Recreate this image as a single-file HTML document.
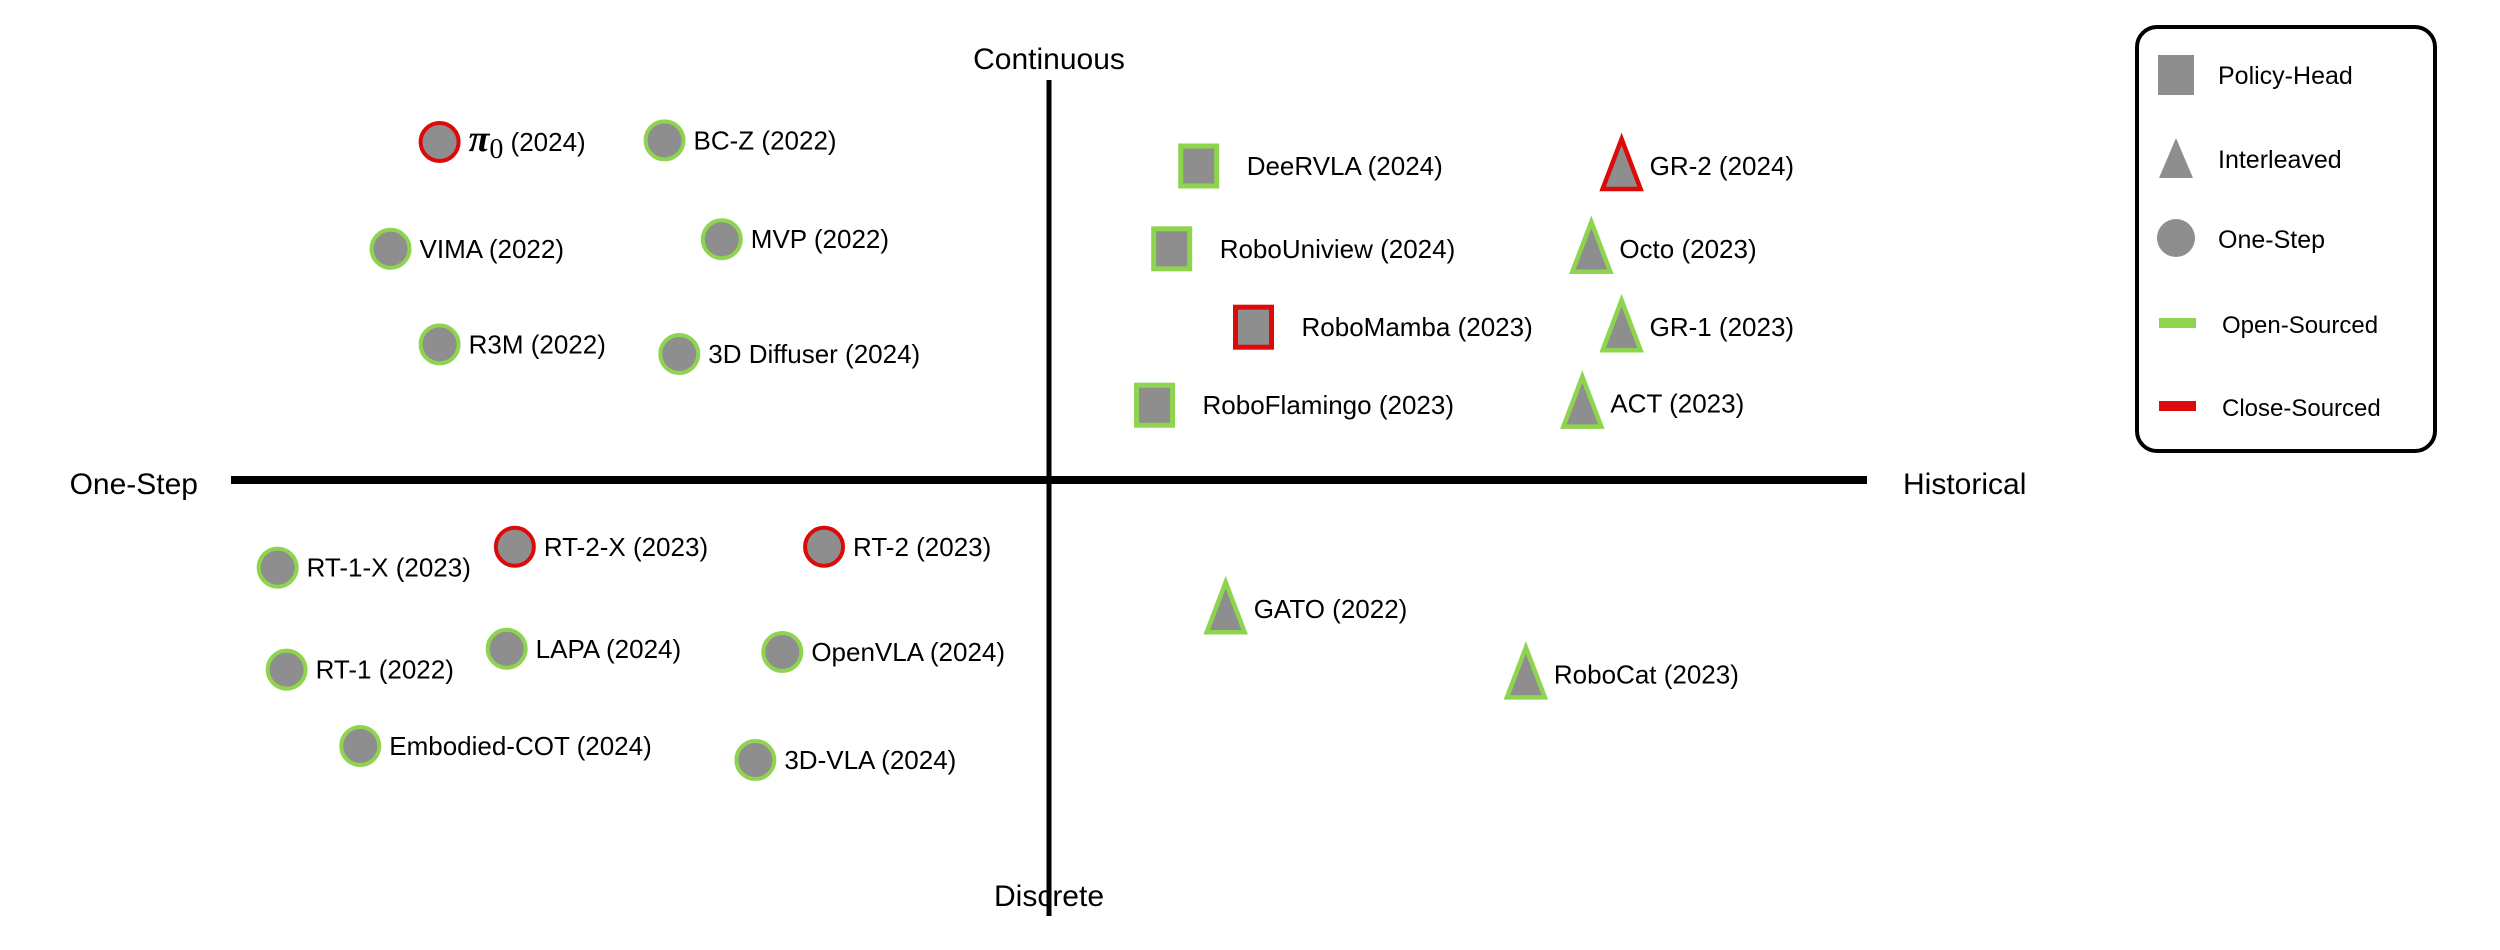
<!DOCTYPE html>
<html><head><meta charset="utf-8"><style>
html,body{margin:0;padding:0;background:#fff;}
svg{display:block;font-family:"Liberation Sans",Arial,sans-serif;}
</style></head><body>
<svg id="chart" width="2500" height="950" viewBox="0 0 2500 950">
<g id="axes"></g>
<g id="marks"></g>
<g id="legend">
 <rect x="2137" y="27" width="298" height="424" rx="20" fill="#fff" stroke="#000" stroke-width="4"/>
 <g>
  <rect x="2158" y="55" width="36" height="40" fill="#8e8e8e"/>
  <text x="2218" y="84" font-size="25">Policy-Head</text>
 </g>
 <g>
  <polygon points="2176,138 2159,178 2193,178" fill="#8e8e8e"/>
  <text x="2218" y="168" font-size="25">Interleaved</text>
 </g>
 <g>
  <circle cx="2176" cy="238" r="19" fill="#8e8e8e"/>
  <text x="2218" y="248" font-size="25">One-Step</text>
 </g>
 <g>
  <rect x="2159" y="318" width="37" height="10" fill="#8ed44f"/>
  <text x="2222" y="333" font-size="24">Open-Sourced</text>
 </g>
 <g>
  <rect x="2159" y="401" width="37" height="10" fill="#dd0a0a"/>
  <text x="2222" y="416" font-size="24">Close-Sourced</text>
 </g>
</g>
</svg>
<script>
const names = ["π0","BC-Z","VIMA","MVP","R3M","3D Diffuser","DeeRVLA","RoboUniview","RoboMamba","RoboFlamingo","GR-2","Octo","GR-1","ACT","RT-1-X","RT-2-X","RT-2","GATO","RT-1","LAPA","OpenVLA","RoboCat","Embodied-COT","3D-VLA"];
const years = [2024,2022,2022,2022,2022,2024,2024,2024,2023,2023,2024,2023,2023,2023,2023,2023,2023,2022,2022,2024,2024,2023,2024,2024];
const xValues = [-7.45,-4.70,-8.05,-4.00,-7.45,-4.52,1.83,1.50,2.50,1.29,7.00,6.63,7.00,6.52,-9.43,-6.53,-2.75,2.16,-9.32,-6.63,-3.26,5.83,-8.42,-3.59];
const yValues = [8.45,8.49,5.78,6.02,3.39,3.15,7.85,5.78,3.82,1.87,7.85,5.78,3.82,1.91,-2.19,-1.67,-1.67,-3.23,-4.74,-4.22,-4.30,-4.86,-6.65,-7.00];
const kinds = ["circle","circle","circle","circle","circle","circle","square","square","square","square","triangle","triangle","triangle","triangle","circle","circle","circle","triangle","circle","circle","circle","triangle","circle","circle"];
const openSource = [false,true,true,true,true,true,true,true,false,true,false,true,true,true,true,false,false,true,true,true,true,true,true,true];
const xDomain = [-10,10];
const yDomain = [-10.9,10];
const axisLabels = ["Continuous","Discrete","One-Step","Historical"];

const NS="http://www.w3.org/2000/svg";
const cx=1049, cy=480;
function xScale(v){return cx+v*81.8;}
function yScale(v){return cy-v*40;}
function mk(tag,attrs,parent){const e=document.createElementNS(NS,tag);for(const k in attrs)e.setAttribute(k,attrs[k]);parent.appendChild(e);return e;}

const axes=document.getElementById('axes');
let l=mk('line',{x1:xScale(xDomain[0]),x2:xScale(xDomain[1]),y1:yScale(0),y2:yScale(0),stroke:'#000','stroke-width':8},axes);


l=mk('line',{x1:xScale(0),x2:xScale(0),y1:yScale(yDomain[1]),y2:yScale(yDomain[0]),stroke:'#000','stroke-width':5},axes);


const alPos=[[xScale(0),69,'middle'],[xScale(0),906,'middle'],[198,494,'end'],[1903,494,'start']];
const alNames=['top-axis-label','bottom-axis-label','left-axis-label','right-axis-label'];
axisLabels.forEach((t,i)=>{
 const e=mk('text',{x:alPos[i][0],y:alPos[i][1],'font-size':30,'text-anchor':alPos[i][2]},axes);
 e.textContent=t;
 
 
});

const marks=document.getElementById('marks');
names.forEach((n,i)=>{
 const px=xScale(xValues[i]), py=yScale(yValues[i]);
 const col=openSource[i]?'#8ed44f':'#dd0a0a';
 const g=mk('g',{},marks);
 
 
 let off;
 if(kinds[i]==='circle'){
  mk('circle',{cx:px,cy:py,r:19,fill:'#8e8e8e',stroke:col,'stroke-width':4},g);off=29;
 }else if(kinds[i]==='square'){
  mk('rect',{x:px-18,y:py-20,width:36,height:40,fill:'#8e8e8e',stroke:col,'stroke-width':5},g);off=48;
 }else{
  mk('polygon',{points:`${px},${py-27} ${px-19},${py+23} ${px+19},${py+23}`,fill:'#8e8e8e',stroke:col,'stroke-width':4.5},g);off=28;
 }
 const t=mk('text',{x:px+off,y:py+9,'font-size':26},g);
 if(n==='π0'){
  const a=mk('tspan',{'font-family':'"Liberation Serif",serif','font-style':'italic','font-weight':'bold','font-size':38},t);a.textContent='π';
  const b=mk('tspan',{'font-family':'"Liberation Serif",serif','font-size':28,dy:7},t);b.textContent='0';
  const c=mk('tspan',{dy:-7},t);c.textContent=' ('+years[i]+')';
 }else t.textContent=n+' ('+years[i]+')';
});
</script>
</body></html>
